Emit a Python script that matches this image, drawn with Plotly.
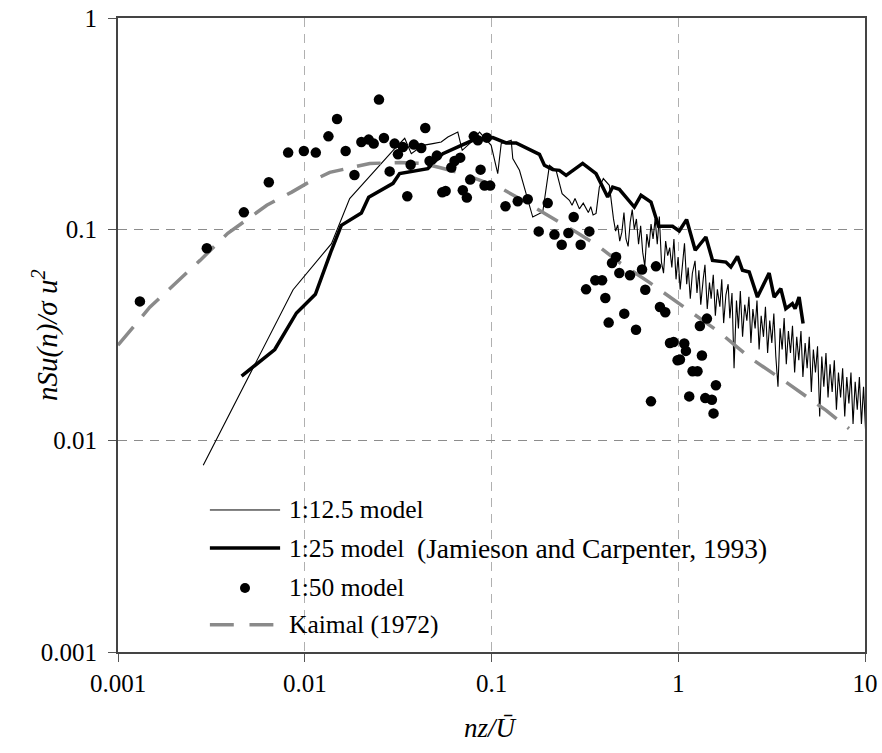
import plotly.graph_objects as go

# ---------------- data ----------------
tick_vals_x = [0.001, 0.01, 0.1, 1, 10]
tick_text_x = ["0.001", "0.01", "0.1", "1", "10"]
tick_vals_y = [0.001, 0.01, 0.1, 1]
tick_text_y = ["0.001", "0.01", "0.1", "1"]

# 1:12.5 model (thin line)
m125_x = [0.00286, 0.00866, 0.0139, 0.0174, 0.0303, 0.0343, 0.0372, 0.0429, 0.0485, 0.0538,
          0.0584, 0.066, 0.0697, 0.0763, 0.0863, 0.0996, 0.108, 0.1127, 0.1275, 0.130,
          0.1412, 0.1533, 0.1663, 0.1881, 0.2043, 0.2218, 0.2388, 0.2613, 0.27, 0.28,
          0.2955, 0.31, 0.33, 0.34, 0.35, 0.363, 0.378, 0.397, 0.4276,
          0.45, 0.462, 0.474, 0.486, 0.499, 0.512, 0.525, 0.539, 0.553, 0.567,
          0.582, 0.597, 0.613, 0.629, 0.645, 0.662, 0.679, 0.697, 0.715, 0.733,
          0.752, 0.772, 0.792, 0.813, 0.834, 0.856, 0.878, 0.9, 0.924, 0.948,
          0.973, 0.998, 1.024, 1.05, 1.08, 1.11, 1.13, 1.16, 1.19, 1.23,
          1.26, 1.29, 1.32, 1.36, 1.39, 1.43, 1.47, 1.5, 1.54, 1.58,
          1.62, 1.67, 1.71, 1.75, 1.8, 1.85, 1.89, 1.94, 1.99, 2.05,
          2.1, 2.15, 2.21, 2.27, 2.33, 2.39, 2.45, 2.51, 2.58, 2.64,
          2.71, 2.78, 2.86, 2.93, 3.01, 3.09, 3.17, 3.25, 3.33, 3.42,
          3.51, 3.6, 3.69, 3.79, 3.89, 3.99, 4.09, 4.2, 4.31, 4.42,
          4.54, 4.65, 4.78, 4.9, 5.03, 5.16, 5.29, 5.43, 5.57, 5.72,
          5.87, 6.02, 6.18, 6.34, 6.5, 6.67, 6.85, 7.03, 7.21, 7.4,
          7.59, 7.79, 7.99, 8.2, 8.41, 8.63, 8.86, 9.09, 9.33, 9.57,
          9.82, 10.08, 10.34, 10.6]
m125_y = [0.00764, 0.0518, 0.0856, 0.1397, 0.241, 0.2696, 0.2282, 0.2497, 0.2545, 0.2589,
          0.2734, 0.2887, 0.2365, 0.2545, 0.2887, 0.2497, 0.1835, 0.2545, 0.2638, 0.2161,
          0.1902, 0.1475, 0.1143, 0.1208, 0.2009, 0.1902, 0.1475, 0.1372, 0.13, 0.14,
          0.125, 0.133, 0.12, 0.128, 0.117, 0.119, 0.1585, 0.1738, 0.1615,
          0.112, 0.098, 0.105, 0.088, 0.097, 0.12, 0.09, 0.083, 0.108, 0.124,
          0.1, 0.112, 0.085, 0.104, 0.078, 0.067, 0.095, 0.082, 0.106, 0.09,
          0.112, 0.085, 0.115, 0.07, 0.062, 0.088, 0.075, 0.082, 0.066, 0.09,
          0.058, 0.074, 0.052, 0.069, 0.086, 0.055, 0.066, 0.047, 0.062, 0.071,
          0.05, 0.064, 0.044, 0.058, 0.068, 0.042, 0.056, 0.047, 0.061, 0.039,
          0.052, 0.043, 0.058, 0.036, 0.049, 0.055, 0.038, 0.05, 0.022, 0.046,
          0.034, 0.051, 0.031, 0.044, 0.037, 0.048, 0.029, 0.042, 0.034, 0.046,
          0.027, 0.039, 0.031, 0.043, 0.026, 0.037, 0.029, 0.04, 0.025, 0.018,
          0.034, 0.027, 0.038, 0.023, 0.033, 0.026, 0.035, 0.021, 0.031, 0.024,
          0.033, 0.02, 0.029, 0.022, 0.031, 0.017, 0.027, 0.021, 0.028, 0.013,
          0.025, 0.018, 0.026, 0.016, 0.023, 0.017, 0.024, 0.014, 0.021, 0.016,
          0.022, 0.013, 0.02, 0.015, 0.021, 0.012, 0.019, 0.014, 0.02, 0.012,
          0.018, 0.011, 0.017, 0.013]

# 1:25 model (thick line)
m25_x = [0.00459, 0.00691, 0.00903, 0.0114, 0.0139, 0.0157, 0.0201, 0.022, 0.0297, 0.0322,
         0.0456, 0.0549, 0.0689, 0.0794, 0.1016, 0.1198, 0.1355, 0.1806, 0.192, 0.2127,
         0.2311, 0.2509, 0.3077, 0.363, 0.4188, 0.4454, 0.4836, 0.5818, 0.6318, 0.7145,
         0.785, 0.9322, 1.012, 1.108, 1.233, 1.406, 1.526, 1.799, 1.913, 2.076, 2.207,
         2.398, 2.655, 3.067, 3.262, 3.541, 3.766, 4.085, 4.224, 4.436, 4.661]
m25_y = [0.0202, 0.027, 0.0402, 0.0493, 0.0796, 0.1044, 0.1195, 0.1417, 0.1651, 0.1835,
         0.1938, 0.2282, 0.2497, 0.2638, 0.2716, 0.2562, 0.2562, 0.2264, 0.2009, 0.1916,
         0.1902, 0.1801, 0.2053, 0.1835, 0.1422, 0.1585, 0.1546, 0.1275, 0.1449, 0.1346,
         0.1033, 0.1033, 0.0982, 0.1112, 0.0796, 0.092, 0.0713, 0.07, 0.0663, 0.0745, 0.064,
         0.0628, 0.0478, 0.0621, 0.0478, 0.0524, 0.0421, 0.0445, 0.0421, 0.0478, 0.0358]

# 1:50 model (dots)
m50_x = [0.00131, 0.00299, 0.00472, 0.00642, 0.00815, 0.00989, 0.01146, 0.01339, 0.01489, 0.01656,
         0.01845, 0.0201, 0.022, 0.0234, 0.02497, 0.02655, 0.0285, 0.03029, 0.03155, 0.03355,
         0.0354, 0.0369, 0.0384, 0.04207, 0.0442, 0.0466, 0.051, 0.0545, 0.0568, 0.0609,
         0.0634, 0.068, 0.0702, 0.0738, 0.0769, 0.0804, 0.0845, 0.0874, 0.0918, 0.0944,
         0.0984, 0.1188, 0.1382, 0.1563, 0.179, 0.2, 0.2173, 0.2377, 0.258, 0.2755,
         0.3003, 0.3209, 0.3342, 0.3598, 0.391, 0.407, 0.424, 0.442, 0.4645, 0.4836,
         0.514, 0.5517, 0.594, 0.64, 0.666, 0.7145, 0.76, 0.798, 0.852, 0.903,
         0.944, 0.9916, 1.021, 1.077, 1.0995, 1.145, 1.193, 1.268, 1.306, 1.339,
         1.395, 1.424, 1.514, 1.545, 1.591]
m50_y = [0.0456, 0.0813, 0.1203, 0.167, 0.2307, 0.2348, 0.2307, 0.2754, 0.3327, 0.2348,
         0.1807, 0.2589, 0.2658, 0.2545, 0.411, 0.2704, 0.188, 0.2545, 0.2264, 0.245,
         0.1433, 0.2023, 0.2517, 0.2425, 0.3015, 0.2105, 0.2233, 0.1496, 0.1518, 0.196,
         0.2105, 0.2184, 0.153, 0.1413, 0.1719, 0.2754, 0.2638, 0.1916, 0.161, 0.2716,
         0.161, 0.1285, 0.1357, 0.1387, 0.0978, 0.1331, 0.0944, 0.0846, 0.096, 0.1143,
         0.0846, 0.052, 0.0978, 0.0574, 0.0574, 0.0473, 0.0362, 0.0693, 0.074, 0.0621,
         0.0399, 0.0606, 0.0335, 0.0645, 0.0518, 0.01535, 0.0668, 0.0429, 0.0405, 0.029,
         0.0293, 0.024, 0.0242, 0.0288, 0.0266, 0.0162, 0.0213, 0.0213, 0.0349, 0.0253,
         0.0159, 0.0378, 0.01563, 0.01346, 0.0183]

# Kaimal (1972)
kai_x = [0.001, 0.00148, 0.00275, 0.00387, 0.00527, 0.00626, 0.00852, 0.01025, 0.01361, 0.0168,
         0.0223, 0.0322, 0.0428, 0.0527, 0.0691, 0.0863, 0.113, 0.141, 0.181, 0.231,
         0.285, 0.369, 0.483, 0.700, 0.929, 1.146, 1.66, 2.40, 3.78, 6.19, 8.21]
kai_y = [0.0283, 0.0428, 0.0713, 0.0957, 0.1164, 0.130, 0.150, 0.165, 0.186, 0.194,
         0.205, 0.207, 0.205, 0.196, 0.184, 0.171, 0.156, 0.140, 0.123, 0.108,
         0.0968, 0.0840, 0.0698, 0.0561, 0.0471, 0.0414, 0.0326, 0.0248, 0.0189, 0.0139, 0.0114]

legend_labels = ["1:12.5 model", "1:25 model", "1:50 model", "Kaimal (1972)"]
legend_note = "(Jamieson and Carpenter, 1993)"
x_title = "<i>nz/Ū</i>"
y_title = "<i>nSu(n)/σ u<sup>2</sup></i>"

FONT = "Liberation Serif"
GREY = "#8a8a8a"

fig = go.Figure()
fig.add_trace(go.Scatter(x=m125_x, y=m125_y, mode="lines",
                         line=dict(color="black", width=1.1), showlegend=False))
fig.add_trace(go.Scatter(x=m25_x, y=m25_y, mode="lines",
                         line=dict(color="black", width=3.5), showlegend=False))
fig.add_trace(go.Scatter(x=kai_x, y=kai_y, mode="lines",
                         line=dict(color=GREY, width=3.5, dash="24px,14px"), showlegend=False))
fig.add_trace(go.Scatter(x=m50_x, y=m50_y, mode="markers",
                         marker=dict(color="black", size=10.5), showlegend=False))

# custom legend (paper coordinates)
leg_y = [0.224, 0.164, 0.101, 0.043]
sx0, sx1, tx = 0.123, 0.217, 0.226
shapes = [
    dict(type="line", xref="paper", yref="paper", x0=sx0, x1=sx1, y0=leg_y[0], y1=leg_y[0],
         line=dict(color="black", width=1)),
    dict(type="line", xref="paper", yref="paper", x0=sx0, x1=sx1, y0=leg_y[1], y1=leg_y[1],
         line=dict(color="black", width=3.5)),
    dict(type="circle", xref="paper", yref="paper", xsizemode="pixel", ysizemode="pixel",
         xanchor=0.170, yanchor=leg_y[2], x0=-5, x1=5, y0=-5, y1=5,
         fillcolor="black", line=dict(color="black", width=0)),
    dict(type="line", xref="paper", yref="paper", x0=sx0, x1=0.155, y0=leg_y[3], y1=leg_y[3],
         line=dict(color=GREY, width=3.5)),
    dict(type="line", xref="paper", yref="paper", x0=0.176, x1=0.208, y0=leg_y[3], y1=leg_y[3],
         line=dict(color=GREY, width=3.5)),
]
annotations = [dict(x=tx, y=yy, xref="paper", yref="paper", text=t, showarrow=False,
                    xanchor="left", yanchor="middle", font=dict(family=FONT, size=25.5, color="black"))
               for yy, t in zip(leg_y, legend_labels)]
annotations.append(dict(x=0.398, y=leg_y[1], xref="paper", yref="paper", text=legend_note,
                        showarrow=False, xanchor="left", yanchor="middle",
                        font=dict(family=FONT, size=27.5, color="black")))
annotations.append(dict(x=0.4993, y=-0.12, xref="paper", yref="paper", text=x_title,
                        showarrow=False, xanchor="center", yanchor="middle",
                        font=dict(family=FONT, size=27, color="black")))
annotations.append(dict(x=-0.0977, y=0.50, xref="paper", yref="paper", text=y_title,
                        showarrow=False, xanchor="center", yanchor="middle", textangle=-90,
                        font=dict(family=FONT, size=29, color="black")))

fig.update_layout(
    width=882, height=753,
    margin=dict(l=118, r=17, t=18, b=101),
    paper_bgcolor="white", plot_bgcolor="white",
    font=dict(family=FONT, size=25, color="black"),
    shapes=shapes, annotations=annotations,
    xaxis=dict(type="log", range=[-3, 1], tickvals=tick_vals_x, ticktext=tick_text_x,
               ticks="outside", ticklen=8, tickcolor="#555", tickwidth=1,
               showline=True, linecolor="#444", linewidth=2, mirror=True,
               showgrid=True, gridcolor="#b0b0b0", gridwidth=1, griddash="9px,7px",
               zeroline=False, tickfont=dict(size=25), automargin=False),
    yaxis=dict(type="log", range=[-3, 0], tickvals=tick_vals_y, ticktext=tick_text_y,
               ticks="outside", ticklen=8, tickcolor="#555", tickwidth=1,
               showline=True, linecolor="#444", linewidth=2, mirror=True,
               showgrid=True, gridcolor="#8c8c8c", gridwidth=1, griddash="9px,7px",
               zeroline=False, tickfont=dict(size=25), ticklabelstandoff=6, automargin=False),
)

fig.write_html("out.html")
